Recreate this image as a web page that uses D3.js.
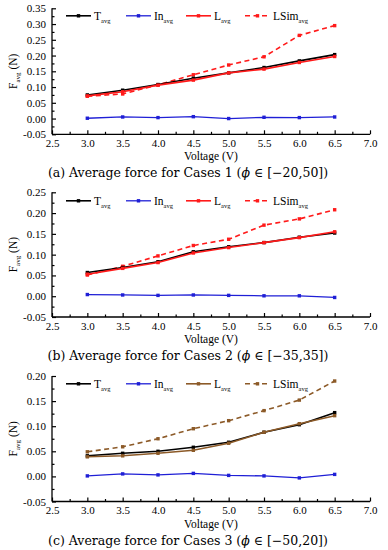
<!DOCTYPE html>
<html>
<head>
<meta charset="utf-8">
<script src="https://cdn.jsdelivr.net/npm/d3@7"></script>
<style>
  html, body { margin: 0; padding: 0; background: #fff; }
  svg { display: block; }
  text { font-family: "Liberation Serif", "Times New Roman", serif; fill: #000; }
</style>
</head>
<body>
<svg id="chart" width="388" height="550"></svg>
<script>
// ---- data ----
const voltage = [3.0, 3.5, 4.0, 4.5, 5.0, 5.5, 6.0, 6.5];
const xTicks = [2.5, 3.0, 3.5, 4.0, 4.5, 5.0, 5.5, 6.0, 6.5, 7.0];
const xTickLabels = ["2.5", "3.0", "3.5", "4.0", "4.5", "5.0", "5.5", "6.0", "6.5", "7.0"];

// Case 1
const tAvg1    = [0.075, 0.090, 0.108, 0.128, 0.145, 0.162, 0.183, 0.203];
const inAvg1   = [0.001, 0.005, 0.003, 0.006, 0.000, 0.004, 0.003, 0.005];
const lAvg1    = [0.072, 0.085, 0.106, 0.122, 0.145, 0.157, 0.178, 0.197];
const lSimAvg1 = [0.071, 0.078, 0.107, 0.139, 0.170, 0.196, 0.264, 0.295];
const yTicks1  = [-0.05, 0.00, 0.05, 0.10, 0.15, 0.20, 0.25, 0.30, 0.35];
const yTickLabels1 = ["-0.05", "0.00", "0.05", "0.10", "0.15", "0.20", "0.25", "0.30", "0.35"];

// Case 2
const tAvg2    = [0.057, 0.069, 0.083, 0.107, 0.119, 0.129, 0.142, 0.152];
const inAvg2   = [0.004, 0.003, 0.002, 0.003, 0.002, 0.001, 0.001, -0.003];
const lAvg2    = [0.053, 0.067, 0.081, 0.104, 0.117, 0.129, 0.141, 0.155];
const lSimAvg2 = [0.051, 0.072, 0.097, 0.122, 0.137, 0.171, 0.186, 0.208];
const yTicks2  = [-0.05, 0.00, 0.05, 0.10, 0.15, 0.20, 0.25];
const yTickLabels2 = ["-0.05", "0.00", "0.05", "0.10", "0.15", "0.20", "0.25"];

// Case 3
const tAvg3    = [0.041, 0.046, 0.050, 0.058, 0.068, 0.088, 0.103, 0.127];
const inAvg3   = [0.001, 0.005, 0.003, 0.006, 0.002, 0.001, -0.003, 0.004];
const lAvg3    = [0.039, 0.041, 0.046, 0.052, 0.066, 0.088, 0.105, 0.121];
const lSimAvg3 = [0.049, 0.059, 0.075, 0.095, 0.111, 0.131, 0.152, 0.190];
const yTicks3  = [-0.05, 0.00, 0.05, 0.10, 0.15, 0.20];
const yTickLabels3 = ["-0.05", "0.00", "0.05", "0.10", "0.15", "0.20"];

const seriesNames = ["T", "In", "L", "LSim"];
const captionPrefixes = ["(a) Average force for Cases 1 (", "(b) Average force for Cases 2 (", "(c) Average force for Cases 3 ("];
const captionRanges = [" \u2208 [\u221220,50])", " \u2208 [\u221235,35])", " \u2208 [\u221250,20])"];

// ---- drawing ----
const svg = d3.select("#chart");

function drawPanel(opt) {
  const g = svg.append("g");
  const x = d3.scaleLinear().domain([2.5, 7.0]).range([52, 370]);
  const yT = opt.yTicks;
  const y = d3.scaleLinear().domain([yT[0], yT[yT.length - 1]]).range([opt.yBottom, opt.yTop]);

  const xMinor = xTicks.slice(0, -1).map(v => v + 0.25);
  const yMinor = yT.slice(0, -1).map(v => v + 0.025);

  const xAxis = d3.axisBottom(x).tickValues(xTicks).tickSize(-4)
    .tickFormat((d, i) => xTickLabels[i]);
  const xg = g.append("g").attr("transform", `translate(0,${opt.yBottom})`).call(xAxis);
  xg.select(".domain").attr("d", `M${x(2.5)},0H${x(7.0)}`).attr("stroke-width", 1.3);
  xg.selectAll("line").attr("stroke-width", 1.2);
  xg.selectAll("text").attr("font-size", 11).attr("y", 5).attr("dy", "0.71em");
  g.append("g").attr("transform", `translate(0,${opt.yBottom})`)
    .call(d3.axisBottom(x).tickValues(xMinor).tickSize(-2.5).tickFormat(""))
    .call(s => s.select(".domain").remove())
    .selectAll("line").attr("stroke-width", 1.2);

  const yAxis = d3.axisLeft(y).tickValues(yT).tickSize(-4)
    .tickFormat((d, i) => opt.yTickLabels[i]);
  const yg = g.append("g").attr("transform", `translate(${x(2.5)},0)`).call(yAxis);
  yg.select(".domain").attr("d", `M0,${opt.yBottom}V${opt.yTop}`).attr("stroke-width", 1.3);
  yg.selectAll("line").attr("stroke-width", 1.2);
  yg.selectAll("text").attr("font-size", 11).attr("x", -6);
  g.append("g").attr("transform", `translate(${x(2.5)},0)`)
    .call(d3.axisLeft(y).tickValues(yMinor).tickSize(-2.5).tickFormat(""))
    .call(s => s.select(".domain").remove())
    .selectAll("line").attr("stroke-width", 1.2);

  // axis titles
  g.append("text").attr("x", x(4.75)).attr("y", opt.yBottom + 26)
    .attr("text-anchor", "middle").attr("font-size", 11.5).text("Voltage (V)");
  const yc = (opt.yTop + opt.yBottom) / 2;
  const yt = g.append("text").attr("transform", `translate(17,${yc}) rotate(-90)`)
    .attr("text-anchor", "middle").attr("font-size", 11.5);
  yt.append("tspan").text("F");
  yt.append("tspan").attr("font-size", 7).attr("dy", 3).text("avg");
  yt.append("tspan").attr("dy", -3).text(" (N)");

  // caption
  const cap = g.append("text").attr("x", 188).attr("y", opt.yBottom + 43)
    .attr("text-anchor", "middle").attr("font-size", 12.5)
    .style("font-family", "'DejaVu Serif', serif");
  cap.append("tspan").text(opt.capPrefix);
  cap.append("tspan").attr("font-style", "italic").text("\u03D5");
  cap.append("tspan").text(opt.capRange);

  const series = [
    { name: seriesNames[0], values: opt.t,    color: "#000000", dash: null, w: 1.6 },
    { name: seriesNames[1], values: opt.inn,  color: "#1f1fd6", dash: null, w: 1.3 },
    { name: seriesNames[2], values: opt.l,    color: opt.lColor, dash: null, w: 1.6 },
    { name: seriesNames[3], values: opt.lsim, color: opt.lColor, dash: "5,3.5", w: 1.6 }
  ];
  const line = d3.line().x((d, i) => x(voltage[i])).y(d => y(d));
  const ms = 3.4;
  [series[3], series[1], series[0], series[2]].forEach(s => {
    g.append("path").attr("d", line(s.values)).attr("fill", "none")
      .attr("stroke", s.color).attr("stroke-width", s.w)
      .attr("stroke-dasharray", s.dash);
    g.selectAll(null).data(s.values).enter().append("rect")
      .attr("x", (d, i) => x(voltage[i]) - ms / 2).attr("y", d => y(d) - ms / 2)
      .attr("width", ms).attr("height", ms).attr("fill", s.color);
  });

  // legend
  const legX = [66, 126, 186, 245];
  const ly = opt.yTop + opt.legendOffset;
  series.forEach((s, i) => {
    const lx = legX[i];
    g.append("line").attr("x1", lx).attr("x2", lx + 25).attr("y1", ly).attr("y2", ly)
      .attr("stroke", s.color).attr("stroke-width", s.w).attr("stroke-dasharray", s.dash);
    g.append("rect").attr("x", lx + 12.5 - ms / 2).attr("y", ly - ms / 2)
      .attr("width", ms).attr("height", ms).attr("fill", s.color);
    const t = g.append("text").attr("x", lx + 28).attr("y", ly + 4).attr("font-size", 11.5);
    t.append("tspan").text(s.name);
    t.append("tspan").attr("font-size", 6.5).attr("dy", 3).text("avg");
  });
}

drawPanel({ yTop: 8.3, yBottom: 134.3, yTicks: yTicks1, yTickLabels: yTickLabels1,
  t: tAvg1, inn: inAvg1, l: lAvg1, lsim: lSimAvg1, lColor: "#ff1a1a",
  capPrefix: captionPrefixes[0], capRange: captionRanges[0], legendOffset: 7.5 });
drawPanel({ yTop: 192.3, yBottom: 317, yTicks: yTicks2, yTickLabels: yTickLabels2,
  t: tAvg2, inn: inAvg2, l: lAvg2, lsim: lSimAvg2, lColor: "#ff1a1a",
  capPrefix: captionPrefixes[1], capRange: captionRanges[1], legendOffset: 8.5 });
drawPanel({ yTop: 376, yBottom: 501.5, yTicks: yTicks3, yTickLabels: yTickLabels3,
  t: tAvg3, inn: inAvg3, l: lAvg3, lsim: lSimAvg3, lColor: "#8c5a28",
  capPrefix: captionPrefixes[2], capRange: captionRanges[2], legendOffset: 7.8 });
</script>
</body>
</html>
